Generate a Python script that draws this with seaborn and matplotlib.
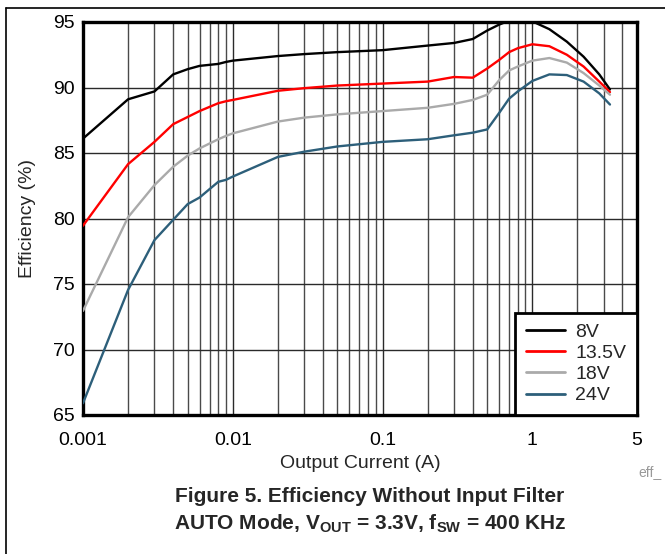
import matplotlib
matplotlib.use("Agg")
import matplotlib.pyplot as plt
import seaborn as sns
import pandas as pd
from matplotlib.lines import Line2D

# ---- data ----
current = [0.001, 0.002, 0.003, 0.004, 0.005, 0.006, 0.008, 0.009, 0.01, 0.02, 0.03,
           0.05, 0.1, 0.2, 0.3, 0.4, 0.5, 0.6, 0.7, 0.8, 1.0, 1.3, 1.7, 2.2, 2.8, 3.3]
eff_8v = [86.1, 89.1, 89.7, 91.0, 91.4, 91.65, 91.8, 91.95, 92.05, 92.4, 92.55,
          92.7, 92.85, 93.2, 93.4, 93.7, 94.35, 94.8, 95.1, 95.2, 95.05, 94.45, 93.5, 92.35, 91.0, 89.85]
eff_13v5 = [79.45, 84.15, 85.85, 87.2, 87.75, 88.2, 88.8, 88.95, 89.05, 89.75, 89.95,
            90.15, 90.3, 90.45, 90.8, 90.75, 91.45, 92.1, 92.7, 93.0, 93.3, 93.15, 92.5, 91.6, 90.45, 89.65]
eff_18v = [72.95, 80.1, 82.55, 83.95, 84.8, 85.35, 86.05, 86.3, 86.5, 87.4, 87.7,
           87.95, 88.2, 88.45, 88.75, 89.05, 89.45, 90.55, 91.3, 91.6, 92.05, 92.25, 91.9, 91.1, 90.15, 89.45]
eff_24v = [65.9, 74.55, 78.35, 79.9, 81.1, 81.6, 82.8, 82.95, 83.2, 84.7, 85.1,
           85.5, 85.85, 86.05, 86.35, 86.55, 86.8, 88.05, 89.15, 89.7, 90.5, 91.0, 90.95, 90.45, 89.55, 88.7]
series_names = ["8V", "13.5V", "18V", "24V"]
x_ticks = [0.001, 0.01, 0.1, 1, 5]
x_tick_labels = ["0.001", "0.01", "0.1", "1", "5"]
y_ticks = [65, 70, 75, 80, 85, 90, 95]

colors = ["#000000", "#FF0000", "#AAAAAA", "#2D5F7A"]

rows = []
for name, vals in zip(series_names, [eff_8v, eff_13v5, eff_18v, eff_24v]):
    for c, v in zip(current, vals):
        rows.append({"Current": c, "Efficiency": v, "Vin": name})
df = pd.DataFrame(rows)

sns.set_style("white")
plt.rcParams["font.family"] = ["Liberation Sans", "DejaVu Sans"]
plt.rcParams["mathtext.fontset"] = "custom"
plt.rcParams["mathtext.rm"] = "Liberation Sans:bold"
plt.rcParams["mathtext.bf"] = "Liberation Sans:bold"

fig = plt.figure(figsize=(6.65, 5.54), dpi=100)
ax = fig.add_axes([83 / 665, 1 - 415 / 554, (637 - 83) / 665, (415 - 22) / 554])

sns.lineplot(data=df, x="Current", y="Efficiency", hue="Vin", hue_order=series_names,
             palette=colors, linewidth=1.7, legend=False, ax=ax, sort=True, zorder=3)

ax.set_xscale("log")
ax.set_xlim(0.001, 5)
ax.set_ylim(65, 95)

ax.grid(True, which="major", axis="both", color="#2a2a2a", linewidth=1.0)
ax.grid(True, which="minor", axis="x", color="#4a4a4a", linewidth=1.0)
ax.set_axisbelow(True)

ax.set_xticks(x_ticks)
ax.set_xticklabels(x_tick_labels)
ax.set_yticks(y_ticks)
ax.tick_params(axis="both", which="both", length=0, labelsize=14, colors="black")
ax.tick_params(axis="x", pad=12)
ax.tick_params(axis="y", pad=6)

for s in ax.spines.values():
    s.set_visible(True)
    s.set_color("black")
    s.set_linewidth(2.4)

ax.set_xlabel("Output Current (A)", fontsize=14)
ax.set_ylabel("Efficiency (%)", fontsize=14)
ax.xaxis.set_label_coords(0.5, -(463 - 415) / 393)
ax.yaxis.set_label_coords((27 - 83) / 554, 0.5)
ax.xaxis.label.set_va("center")
ax.yaxis.label.set_va("center")

handles = [Line2D([0], [0], color=c, lw=2) for c in colors]
leg = ax.legend(handles, series_names, loc="lower right", fontsize=14,
                frameon=True, fancybox=False, framealpha=1, edgecolor="black",
                borderpad=0.55, handlelength=2.0, handletextpad=0.55, labelspacing=0.18,
                borderaxespad=0.0)
leg.get_frame().set_linewidth(2.0)
leg.set_zorder(5)

# caption
fig.text(370 / 665, 1 - 497 / 554, "Figure 5. Efficiency Without Input Filter",
         ha="center", va="center", fontsize=15, fontweight="bold")
fig.text(370 / 665, 1 - 524 / 554,
         r"AUTO Mode, V$_{\mathrm{OUT}}$ = 3.3V, f$_{\mathrm{SW}}$ = 400 KHz",
         ha="center", va="center", fontsize=15, fontweight="bold")
fig.text(638 / 665, 1 - 472 / 554, "eff_", ha="left", va="center", fontsize=10, color="#999999")

# outer frame
fig.add_artist(Line2D([6 / 665, 1.0], [1 - 8 / 554, 1 - 8 / 554], color="black", lw=1.2,
                      transform=fig.transFigure))
fig.add_artist(Line2D([6 / 665, 6 / 665], [1 - 8 / 554, 0.0], color="black", lw=1.2,
                      transform=fig.transFigure))

fig.savefig("out.png", dpi=100)
